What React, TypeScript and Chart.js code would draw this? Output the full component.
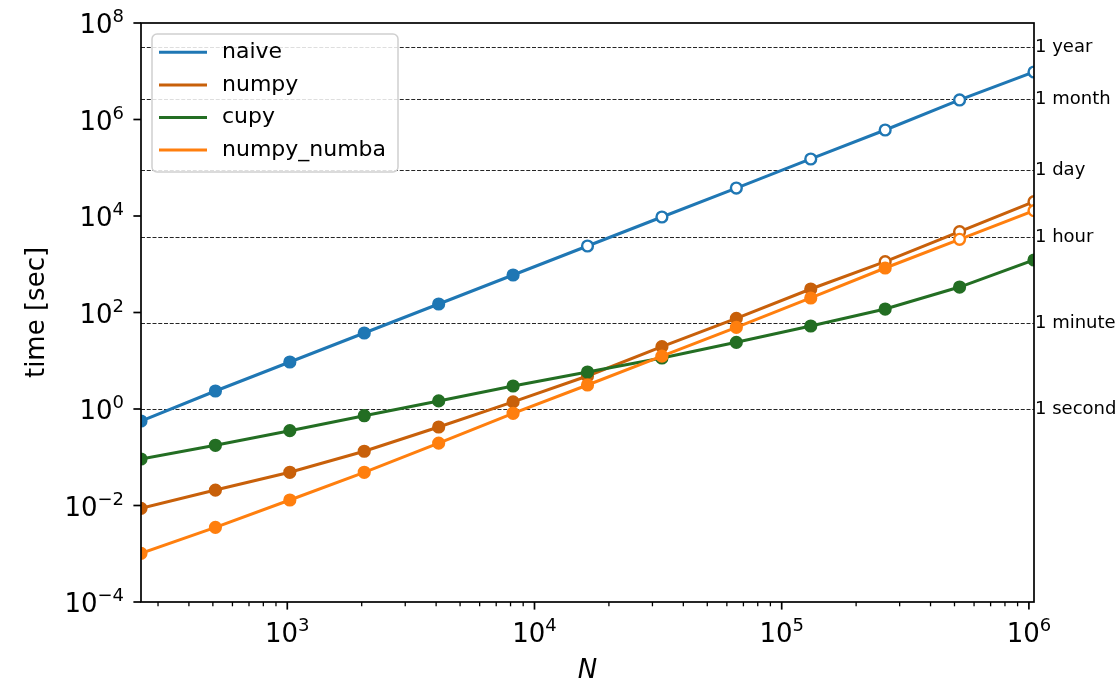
import React, { useEffect, useRef } from 'react';
import { Chart, registerables } from 'chart.js';

Chart.register(...registerables);

// ---- data ----
const problemSizes = [256, 512, 1024, 2048, 4096, 8192, 16384, 32768, 65536, 131072, 262144, 524288, 1048576];

const naiveTimes = [0.564, 2.36, 9.42, 37.6, 150, 599, 2390, 9530, 38000, 152000, 606000, 2.54e6, 9.65e6];
const numpyTimes = [0.00875, 0.0209, 0.0488, 0.133, 0.424, 1.4, 4.83, 19.6, 75.8, 307, 1130, 4730, 19800];
const cupyTimes = [0.092, 0.177, 0.355, 0.726, 1.47, 3.0, 5.85, 11.4, 24.1, 52.5, 118, 337, 1225];
const numbaTimes = [0.00102, 0.00353, 0.013, 0.0488, 0.197, 0.815, 3.14, 12.5, 49.3, 200, 836, 3290, 12900];

// 1 = measured (filled marker), 0 = estimated (open marker)
const naiveMeasured = [1, 1, 1, 1, 1, 1, 0, 0, 0, 0, 0, 0, 0];
const numpyMeasured = [1, 1, 1, 1, 1, 1, 1, 1, 1, 1, 0, 0, 0];
const cupyMeasured = [1, 1, 1, 1, 1, 1, 1, 1, 1, 1, 1, 1, 1];
const numbaMeasured = [1, 1, 1, 1, 1, 1, 1, 1, 1, 1, 1, 0, 0];

const seriesNames = ['naive', 'numpy', 'cupy', 'numpy_numba'];
const seriesColors = ['#1f77b4', '#c8600a', '#236e23', '#ff7f0e'];

const timeMarkValues = [1, 60, 3600, 86400, 2592000, 31536000];
const timeMarkLabels = ['1 second', '1 minute', '1 hour', '1 day', '1 month', '1 year'];

const yTickExponents = [-4, -2, 0, 2, 4, 6, 8];
const xTickExponents = [3, 4, 5, 6];
const xMinorDecades = [2, 3, 4, 5, 6];

const X_MIN = 256;
const X_MAX = 1048576;
const Y_MIN = 1e-4;
const Y_MAX = 1e8;

const FONT = "'DejaVu Sans', sans-serif";

function expText(e: number): string {
  return e < 0 ? '\u2212' + Math.abs(e) : String(e);
}

function drawPower(ctx: CanvasRenderingContext2D, e: number, x: number, baseline: number, align: 'center' | 'right') {
  const baseFont = `26px ${FONT}`;
  const supFont = `18px ${FONT}`;
  ctx.font = baseFont;
  const wb = ctx.measureText('10').width;
  ctx.font = supFont;
  const es = expText(e);
  const we = ctx.measureText(es).width;
  const total = wb + we;
  const x0 = align === 'center' ? x - total / 2 : x - total;
  ctx.textAlign = 'left';
  ctx.textBaseline = 'alphabetic';
  ctx.fillStyle = '#000';
  ctx.font = baseFont;
  ctx.fillText('10', x0, baseline);
  ctx.font = supFont;
  ctx.fillText(es, x0 + wb, baseline - 11);
}

const decorPlugin = {
  id: 'decor',
  afterDatasetsDraw(chart: any) {
    const { ctx, chartArea: ca, scales } = chart;
    const xs = scales.x;
    const ys = scales.y;
    ctx.save();

    // frame (spines)
    ctx.strokeStyle = '#000';
    ctx.lineWidth = 1.7;
    ctx.strokeRect(ca.left, ca.top, ca.right - ca.left, ca.bottom - ca.top);

    // x ticks
    for (const d of xMinorDecades) {
      for (let k = 1; k <= 9; k++) {
        const v = k * Math.pow(10, d);
        if (v < X_MIN || v > X_MAX) continue;
        const px = xs.getPixelForValue(v);
        const major = k === 1;
        ctx.lineWidth = major ? 1.7 : 1.3;
        ctx.beginPath();
        ctx.moveTo(px, ca.bottom);
        ctx.lineTo(px, ca.bottom + (major ? 7.6 : 4.3));
        ctx.stroke();
      }
    }
    for (const e of xTickExponents) {
      const px = xs.getPixelForValue(Math.pow(10, e));
      drawPower(ctx, e, px, ca.bottom + 40, 'center');
    }

    // y ticks
    for (const e of yTickExponents) {
      const py = ys.getPixelForValue(Math.pow(10, e));
      ctx.lineWidth = 1.7;
      ctx.beginPath();
      ctx.moveTo(ca.left, py);
      ctx.lineTo(ca.left - 7.6, py);
      ctx.stroke();
      drawPower(ctx, e, ca.left - 17, py + 10, 'right');
    }

    // axis titles
    ctx.fillStyle = '#000';
    ctx.font = `italic 26px ${FONT}`;
    ctx.textAlign = 'center';
    ctx.textBaseline = 'alphabetic';
    ctx.fillText('N', (ca.left + ca.right) / 2, 677.5);

    ctx.save();
    ctx.translate(44, (ca.top + ca.bottom) / 2);
    ctx.rotate(-Math.PI / 2);
    ctx.font = `26px ${FONT}`;
    ctx.fillText('time [sec]', 0, 0);
    ctx.restore();

    // legend
    const lx = 152, ly = 34, lw = 246, lh = 138;
    ctx.beginPath();
    ctx.roundRect(lx, ly, lw, lh, 5);
    ctx.fillStyle = 'rgba(255,255,255,0.85)';
    ctx.fill();
    ctx.strokeStyle = '#d0d0d0';
    ctx.lineWidth = 1.5;
    ctx.stroke();
    ctx.font = `22px ${FONT}`;
    ctx.textAlign = 'left';
    ctx.textBaseline = 'middle';
    seriesNames.forEach((name, i) => {
      const ry = 52.3 + i * 32.6;
      ctx.strokeStyle = seriesColors[i];
      ctx.lineWidth = 3;
      ctx.beginPath();
      ctx.moveTo(159, ry);
      ctx.lineTo(207, ry);
      ctx.stroke();
      ctx.fillStyle = '#000';
      ctx.fillText(name, 222, ry);
    });

    ctx.restore();
  },
};

function makeDataset(i: number, times: number[], measured: number[]) {
  return {
    label: seriesNames[i],
    data: problemSizes.map((n, k) => ({ x: n, y: times[k] })),
    borderColor: seriesColors[i],
    backgroundColor: seriesColors[i],
    borderWidth: 3,
    pointRadius: 5.4,
    pointBorderWidth: 2.4,
    pointBorderColor: seriesColors[i],
    pointBackgroundColor: measured.map((m) => (m ? seriesColors[i] : '#ffffff')),
    tension: 0,
    clip: 0,
    order: 3 - i,
  };
}

export default function App() {
  const ref = useRef<HTMLCanvasElement | null>(null);

  useEffect(() => {
    document.body.style.margin = '0';
    if (!ref.current) return;
    const chart = new Chart(ref.current, {
      type: 'line',
      data: {
        datasets: [
          makeDataset(0, naiveTimes, naiveMeasured),
          makeDataset(1, numpyTimes, numpyMeasured),
          makeDataset(2, cupyTimes, cupyMeasured),
          makeDataset(3, numbaTimes, numbaMeasured),
        ] as any,
      },
      options: {
        responsive: false,
        animation: false,
        events: [],
        layout: { padding: { top: 23, left: 0, right: 0, bottom: 0 } },
        plugins: { legend: { display: false }, tooltip: { enabled: false } },
        scales: {
          x: {
            type: 'logarithmic',
            min: X_MIN,
            max: X_MAX,
            ticks: { display: false },
            grid: { display: false },
            border: { display: false },
            afterFit: (s: any) => {
              s.height = 84;
            },
          },
          y: {
            type: 'logarithmic',
            position: 'left',
            min: Y_MIN,
            max: Y_MAX,
            ticks: { display: false },
            grid: { display: false },
            border: { display: false },
            afterFit: (s: any) => {
              s.width = 141;
            },
          },
          y2: {
            type: 'logarithmic',
            position: 'right',
            min: Y_MIN,
            max: Y_MAX,
            afterBuildTicks: (s: any) => {
              s.ticks = timeMarkValues.map((v) => ({ value: v }));
            },
            ticks: {
              callback: (_v: any, i: number) => timeMarkLabels[i],
              autoSkip: false,
              padding: 1,
              color: '#000',
              font: { family: FONT, size: 18 },
            },
            grid: { drawTicks: false, color: 'rgba(0,0,0,0.85)', lineWidth: 1 },
            border: { display: false, dash: [4, 1.75] },
            afterFit: (s: any) => {
              s.width = 85;
            },
          },
        },
      } as any,
      plugins: [decorPlugin],
    });
    return () => chart.destroy();
  }, []);

  return (
    <div style={{ width: 1119, height: 686 }}>
      <canvas ref={ref} width={1119} height={686} style={{ display: 'block' }} />
    </div>
  );
}
